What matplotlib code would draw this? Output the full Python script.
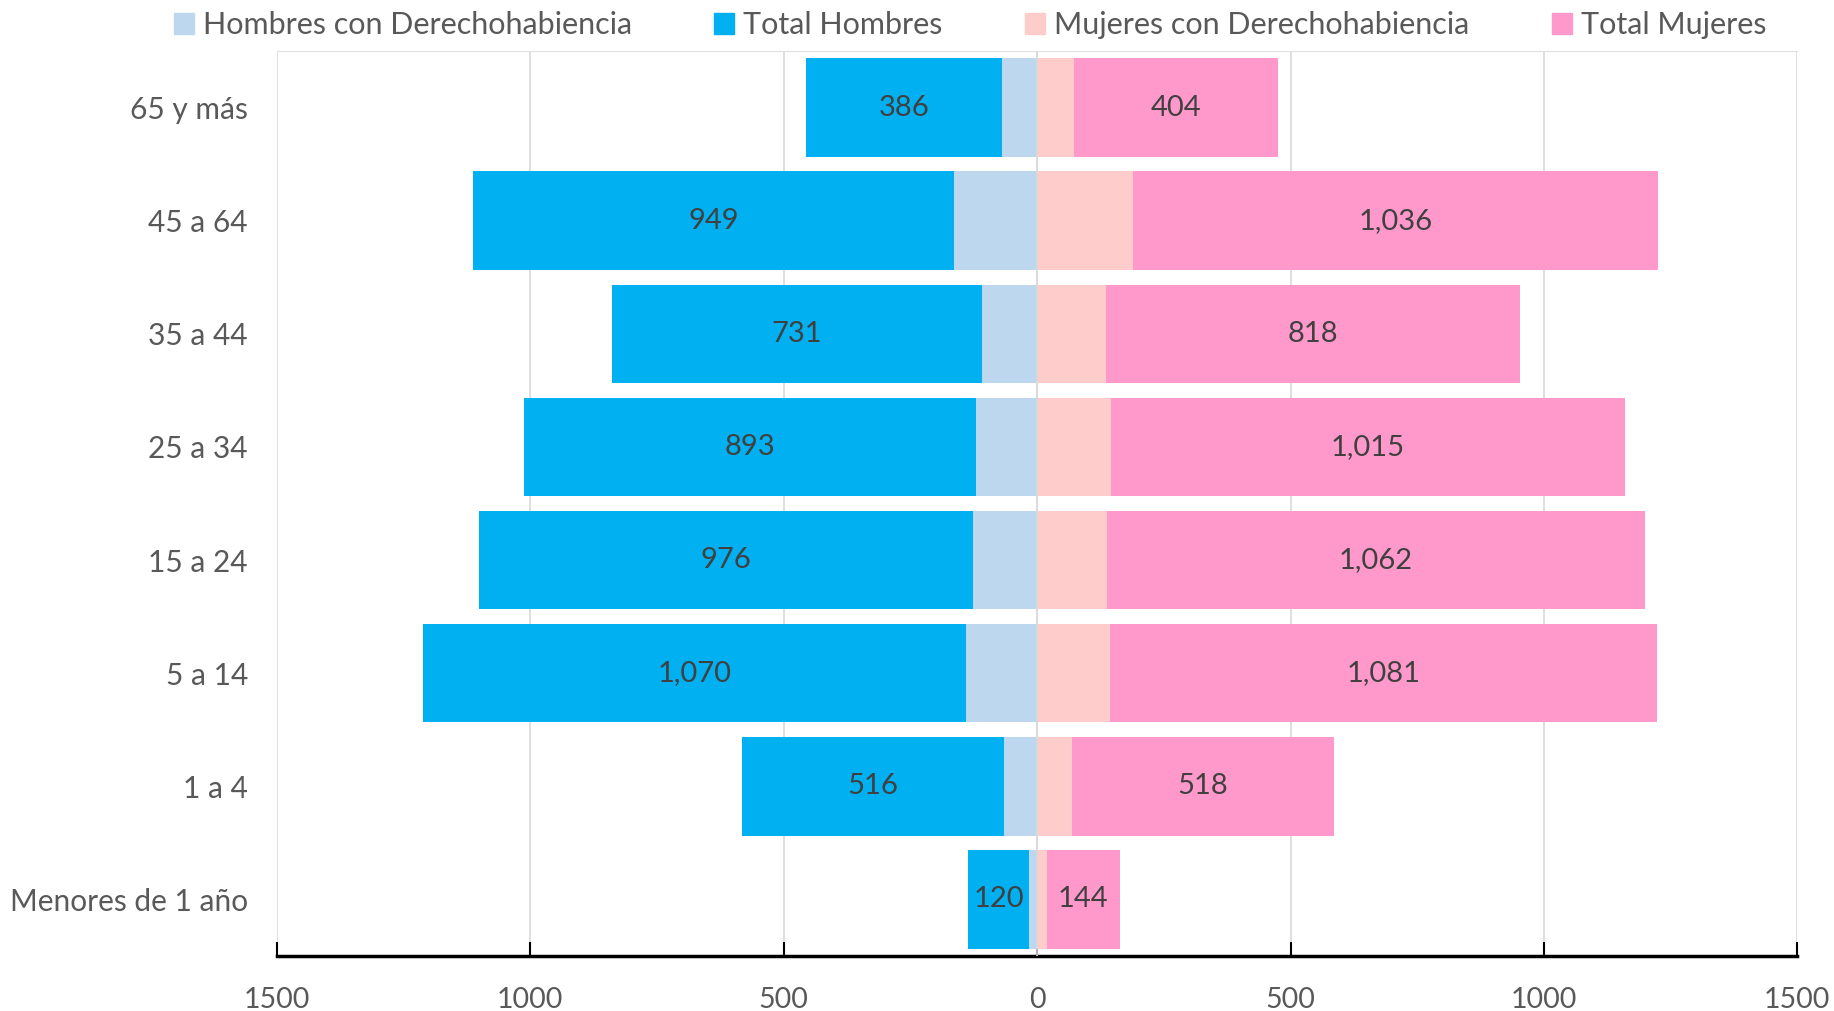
import matplotlib
matplotlib.use("Agg")
import matplotlib.pyplot as plt
from matplotlib.ticker import FuncFormatter, FixedLocator
from matplotlib.patches import Patch

plt.rcParams['font.family'] = ['Lato', 'DejaVu Sans']

categorias = ["Menores de 1 año", "1 a 4", "5 a 14", "15 a 24", "25 a 34", "35 a 44", "45 a 64", "65 y más"]
hombres_derecho = [16, 66, 141, 126, 120, 108, 164, 70]
hombres_total = [120, 516, 1070, 976, 893, 731, 949, 386]
mujeres_derecho = [19, 68, 143, 138, 145, 135, 189, 72]
mujeres_total = [144, 518, 1081, 1062, 1015, 818, 1036, 404]
ticks_x = [-1500, -1000, -500, 0, 500, 1000, 1500]

c_hd = "#BDD7EE"
c_ht = "#00B0F0"
c_md = "#FFCCCC"
c_mt = "#FF99CC"
txt = "#595959"

fig = plt.figure(figsize=(18.34, 10.11), dpi=100)
ax = fig.add_axes([0.151, 0.0544, 0.829, 0.8952])

y = list(range(len(categorias)))
h = 0.87
neg_hd = [-v for v in hombres_derecho]
neg_ht = [-v for v in hombres_total]
ax.barh(y, neg_hd, height=h, color=c_hd, zorder=3)
bh = ax.barh(y, neg_ht, left=neg_hd, height=h, color=c_ht, zorder=3)
ax.barh(y, mujeres_derecho, height=h, color=c_md, zorder=3)
bm = ax.barh(y, mujeres_total, left=mujeres_derecho, height=h, color=c_mt, zorder=3)

ax.bar_label(bh, labels=[f"{v:,}" for v in hombres_total], label_type='center',
             fontsize=21, color="#404040", zorder=5)
ax.bar_label(bm, labels=[f"{v:,}" for v in mujeres_total], label_type='center',
             fontsize=21, color="#404040", zorder=5)

ax.set_xlim(-1500, 1500)
ax.set_ylim(-0.5, len(categorias) - 0.5)
ax.xaxis.set_major_locator(FixedLocator(ticks_x))
ax.xaxis.set_major_formatter(FuncFormatter(lambda v, p: f"{abs(int(v))}"))
ax.set_yticks(y)
ax.set_yticklabels(categorias)
ax.tick_params(axis='y', length=0, pad=21, labelsize=21.5, labelcolor=txt)
ax.tick_params(axis='x', direction='in', length=10, width=1.5, pad=22, labelsize=20.5,
               labelcolor=txt, color='black')
ax.grid(axis='x', color="#D9D9D9", linewidth=1.2, zorder=0)
ax.axvline(0, color="#D9D9D9", linewidth=1.2, zorder=4)
for s in ['left', 'right']:
    ax.spines[s].set_visible(False)
ax.spines['top'].set_color("#E0E0E0")
ax.spines['bottom'].set_color('black')
ax.spines['bottom'].set_linewidth(2.5)

handles = [Patch(color=c_hd, label="Hombres con Derechohabiencia"),
           Patch(color=c_ht, label="Total Hombres"),
           Patch(color=c_md, label="Mujeres con Derechohabiencia"),
           Patch(color=c_mt, label="Total Mujeres")]
leg = fig.legend(handles=handles, loc='upper center', bbox_to_anchor=(0.529, 1.016), ncol=4,
                 frameon=False, fontsize=22, handlelength=0.65, handleheight=0.65,
                 handletextpad=0.3, columnspacing=2.7, labelcolor=txt)

fig.savefig("out.png", dpi=100)
